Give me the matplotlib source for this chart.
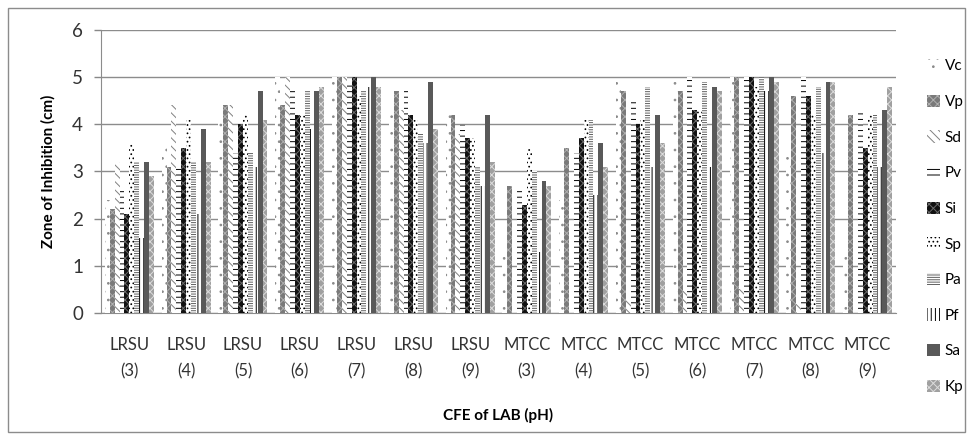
import numpy as np
import matplotlib
matplotlib.use('Agg')
import matplotlib.pyplot as plt
from matplotlib.patches import Rectangle

plt.rcParams['font.family'] = ['Lato', 'DejaVu Sans']
plt.rcParams['hatch.linewidth'] = 0.7

# categories
groups = ['LRSU\n(3)', 'LRSU\n(4)', 'LRSU\n(5)', 'LRSU\n(6)', 'LRSU\n(7)', 'LRSU\n(8)', 'LRSU\n(9)',
          'MTCC\n(3)', 'MTCC\n(4)', 'MTCC\n(5)', 'MTCC\n(6)', 'MTCC\n(7)', 'MTCC\n(8)', 'MTCC\n(9)']
series_names = ['Vc', 'Vp', 'Sd', 'Pv', 'Si', 'Sp', 'Pa', 'Pf', 'Sa', 'Kp']

# zone of inhibition (cm)
Vc = [2.4, 3.5, 4.3, 5.0, 5.0, 4.3, 4.2, 1.3, 2.4, 4.9, 4.9, 5.0, 3.4, 1.3]
Vp = [2.2, 3.1, 4.4, 4.4, 5.0, 4.7, 4.2, 2.7, 3.5, 4.7, 4.7, 5.0, 4.6, 4.2]
Sd = [3.2, 4.4, 4.4, 5.0, 5.0, 4.3, 3.8, 0.0, 0.0, 0.3, 0.5, 0.5, 0.2, 0.0]
Pv = [2.6, 3.1, 3.4, 4.8, 4.9, 4.7, 4.0, 2.6, 3.4, 4.5, 5.0, 5.0, 5.0, 4.3]
Si = [2.1, 3.5, 4.0, 4.2, 5.0, 4.2, 3.7, 2.3, 3.7, 4.0, 4.3, 5.0, 4.6, 3.5]
Sp = [3.6, 4.1, 4.2, 4.2, 4.6, 4.1, 3.7, 3.5, 4.1, 4.1, 4.3, 4.8, 4.2, 4.2]
Pa = [3.2, 3.2, 3.4, 4.7, 4.7, 3.8, 3.1, 3.0, 4.1, 4.8, 4.9, 5.0, 4.8, 4.2]
Pf = [1.6, 2.1, 3.1, 3.9, 4.8, 3.6, 2.7, 1.3, 2.5, 3.1, 3.1, 4.7, 3.4, 3.1]
Sa = [3.2, 3.9, 4.7, 4.7, 5.0, 4.9, 4.2, 2.8, 3.6, 4.2, 4.8, 5.0, 4.9, 4.3]
Kp = [2.9, 3.2, 4.1, 4.8, 4.8, 3.9, 3.2, 2.7, 3.1, 3.6, 4.7, 4.9, 4.9, 4.8]
all_series = [Vc, Vp, Sd, Pv, Si, Sp, Pa, Pf, Sa, Kp]

# (face, hatch, hatch colour) per series, mimicking excel pattern fills
styles = [
    ('white', '..', '#8a8a8a'),
    ('#7a7a7a', 'xxxx', '#b0b0b0'),
    ('white', '\\\\\\\\', '#808080'),
    ('white', '---', 'black'),
    ('#111111', 'xxxx', '#6a6a6a'),
    ('white', '....', 'black'),
    ('white', '-------', '#606060'),
    ('white', '||||', 'black'),
    ('#595959', None, '#595959'),
    ('#a0a0a0', 'xxxx', '#dcdcdc'),
]

fig = plt.figure(figsize=(9.73, 4.40), dpi=100)
ax = fig.add_axes([101/973, 1 - 313/440, 795/973, 283/440])

x = np.arange(len(groups))
w = 0.0863
handles = []
for j, vals in enumerate(all_series):
    face, hatch, hc = styles[j]
    b = ax.bar(x + (j - 4.5) * w, vals, width=w, color=face, hatch=hatch,
               edgecolor=hc, linewidth=0, label=series_names[j], zorder=3)
    handles.append(b)

ax.set_xlim(-0.5, len(groups) - 0.5)
ax.set_ylim(0, 6)
ax.set_yticks(range(0, 7))
ax.set_xticks(x)
ax.set_xticklabels(groups, fontsize=12, color='#333333', linespacing=1.85)
ax.tick_params(axis='y', labelsize=13.5, colors='#333333', length=5, width=1, color='#888888', pad=8)
ax.tick_params(axis='x', length=0, pad=17)
ax.grid(axis='y', color='#8c8c8c', linewidth=1, zorder=0)
ax.set_axisbelow(True)
for s in ['top', 'right']:
    ax.spines[s].set_visible(False)
ax.spines['left'].set_color('#8c8c8c')
ax.spines['bottom'].set_color('#8c8c8c')

ax.set_ylabel('Zone of Inhibition (cm)', fontsize=11, fontweight='bold', labelpad=12)
ax.set_xlabel('CFE of LAB (pH)', fontsize=11, fontweight='bold', labelpad=20)

fig.legend(handles=handles, loc='upper left', bbox_to_anchor=(921/973, 1 - 53/440),
           frameon=False, fontsize=11, handlelength=0.85, handleheight=0.85,
           handletextpad=0.3, labelspacing=1.39, borderaxespad=0)

fig.patches.append(Rectangle((8/973, 8/440), 957/973, 424/440, transform=fig.transFigure,
                             fill=False, edgecolor='#8c8c8c', linewidth=1))

fig.savefig('out.png', dpi=100)
